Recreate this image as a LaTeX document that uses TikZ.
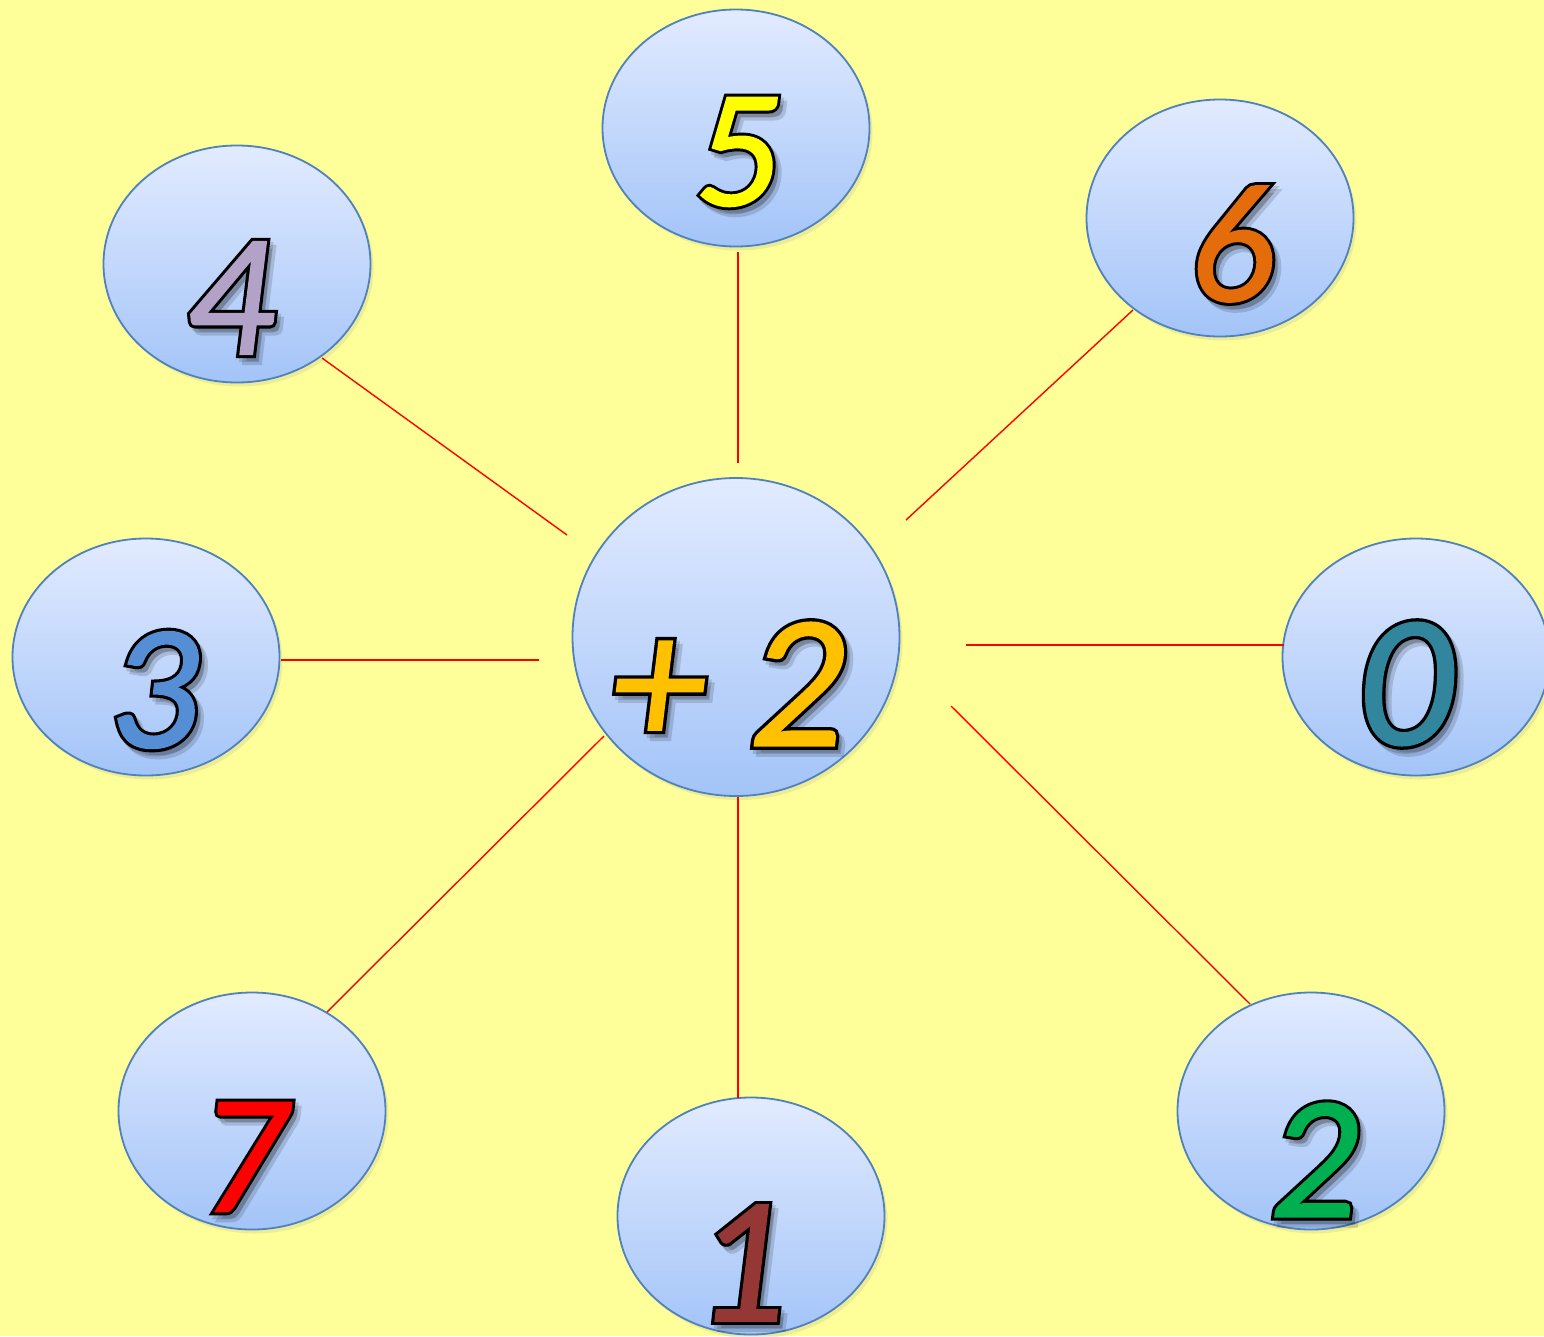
\documentclass[tikz,border=0pt]{standalone}
\usepackage{fontspec}
\usetikzlibrary{shapes.geometric,calc,shadows}
\newfontfamily\digfont{Carlito}[ItalicFeatures={FakeBold=1}]
\newfontfamily\digoutfont{Carlito}[ItalicFeatures={FakeBold=4.5}]
\definecolor{bgyellow}{RGB}{255,255,153}
\definecolor{btop}{RGB}{226,235,255}
\definecolor{bbot}{RGB}{163,196,248}
\definecolor{bborder}{RGB}{79,129,189}
\definecolor{cfive}{RGB}{255,255,0}
\definecolor{cfour}{RGB}{179,162,199}
\definecolor{csix}{RGB}{228,108,10}
\definecolor{cthree}{RGB}{85,142,213}
\definecolor{czero}{RGB}{49,133,156}
\definecolor{cseven}{RGB}{255,0,0}
\definecolor{cone}{RGB}{149,55,53}
\definecolor{ctwo}{RGB}{0,176,80}
\definecolor{cplus}{RGB}{255,192,0}
\newcommand\numlabel[5]{%
  \node[digshadow] at ($(#2)+(6,7)$) {\digoutfont\itshape\fontsize{#5}{#5}\selectfont #4};
  \node[digshadow] at ($(#2)+(3,4)$) {\digoutfont\itshape\fontsize{#5}{#5}\selectfont #4};
  \node[digplain, text=black] at (#2) {\digoutfont\itshape\fontsize{#5}{#5}\selectfont #4};
  \node[digplain, text=#3] (#1) at (#2) {\digfont\itshape\fontsize{#5}{#5}\selectfont #4};
}
\begin{document}
\begin{tikzpicture}[x=1pt,y=-1pt,
  bubble/.style={ellipse, draw=bborder, line width=1.8pt, top color=btop, bottom color=bbot,
     minimum width=267pt, minimum height=237pt, inner sep=0pt,
     drop shadow={opacity=0.15, shadow xshift=3pt, shadow yshift=-4pt}},
  spoke/.style={draw=red, line width=1.4pt},
  digplain/.style={inner sep=0pt, anchor=center},
  digshadow/.style={inner sep=0pt, anchor=center, text=black, text opacity=0.14}]
\path[use as bounding box, fill=bgyellow] (0,0) rectangle (1544,1336);

% bubbles
\node[bubble] (b5) at (736,128) {};
\node[bubble] (b4) at (237,264) {};
\node[bubble] (b6) at (1220,218) {};
\node[bubble] (b3) at (146,657) {};
\node[bubble] (b0) at (1416,657) {};
\node[bubble] (b7) at (252,1111) {};
\node[bubble] (b1) at (751,1216) {};
\node[bubble] (b2) at (1311,1111) {};
\node[bubble, minimum width=327pt, minimum height=318pt] (bc) at (736,637) {};

% spokes
\coordinate (s5a) at (738,252); \coordinate (s5b) at (738,463);
\coordinate (s4a) at (322,358); \coordinate (s4b) at (567,535);
\coordinate (s6a) at (1133,310); \coordinate (s6b) at (906,520);
\coordinate (s3a) at (281,660); \coordinate (s3b) at (539,660);
\coordinate (s0a) at (1284,645); \coordinate (s0b) at (966,645);
\coordinate (s7a) at (327,1012); \coordinate (s7b) at (604,736);
\coordinate (s1a) at (738,1098); \coordinate (s1b) at (738,797);
\coordinate (s2a) at (1250,1004); \coordinate (s2b) at (951,706);
\foreach \s in {5,4,6,3,0,7,1,2}{\path[spoke] (s\s a) -- (s\s b);}

% numbers
\numlabel{t5}{737,152}{cfive}{5}{168}
\numlabel{t4}{230,298}{cfour}{4}{175}
\numlabel{t6}{1232,244}{csix}{6}{170}
\numlabel{t3}{154,690}{cthree}{3}{178}
\numlabel{t0}{1405,684}{czero}{0}{188}
\numlabel{t7}{243,1157}{cseven}{7}{170}
\numlabel{t1}{741,1263}{cone}{1}{180}
\numlabel{t2}{1314,1160}{ctwo}{2}{175}
\numlabel{tc}{728,684}{cplus}{+ 2}{190}
\end{tikzpicture}
\end{document}
